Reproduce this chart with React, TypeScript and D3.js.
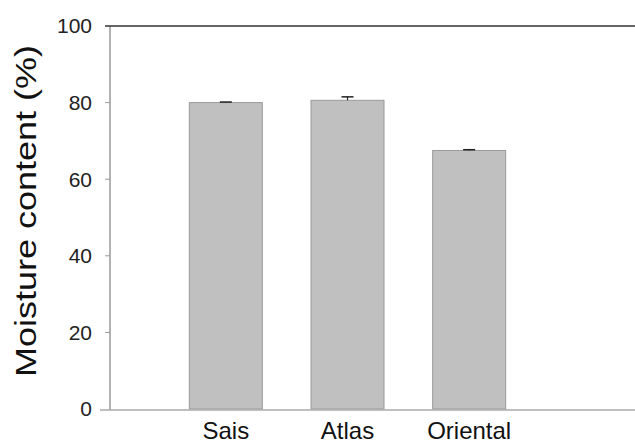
import React from "react";
import * as d3 from "d3";

const categories = ["Sais", "Atlas", "Oriental"];
const values = [80.0, 80.6, 67.5];
const errors = [0.15, 0.9, 0.2];
const yTicks = [0, 20, 40, 60, 80, 100];

const W = 635;
const H = 445;
const left = 110;
const right = 635;
const top = 26;
const bottom = 409;

export default function App() {
  const y = d3.scaleLinear().domain([0, 100]).range([bottom, top]);
  const x = d3
    .scaleBand<string>()
    .domain(categories)
    .range([165, 530])
    .paddingInner(0.4)
    .paddingOuter(0.2);
  const font = "Arial, 'Liberation Sans', Helvetica, sans-serif";
  return (
    <svg
      width={W}
      height={H}
      style={{ position: "absolute", left: 0, top: 0, background: "#fff" }}
      fontFamily={font}
    >
      {categories.map((c, i) => {
        const bx = x(c)!;
        const bw = x.bandwidth();
        const cx = bx + bw / 2;
        return (
          <g key={c}>
            <rect
              x={bx}
              y={y(values[i])}
              width={bw}
              height={y(0) - y(values[i])}
              fill="#c0c0c0"
              stroke="#9a9a9a"
              strokeWidth={1}
            />
            <line
              x1={cx}
              x2={cx}
              y1={y(values[i])}
              y2={y(values[i] + errors[i])}
              stroke="#222"
              strokeWidth={1.2}
            />
            <line
              x1={cx - 6}
              x2={cx + 6}
              y1={y(values[i] + errors[i])}
              y2={y(values[i] + errors[i])}
              stroke="#222"
              strokeWidth={1.5}
            />
            <text
              x={cx}
              y={439}
              textAnchor="middle"
              fontSize={24}
              fill="#111"
            >
              {c}
            </text>
          </g>
        );
      })}
      <line x1={left} x2={left} y1={top} y2={bottom + 1} stroke="#999" strokeWidth={1.5} />
      <line x1={100} x2={right} y1={bottom + 1} y2={bottom + 1} stroke="#aaa" strokeWidth={1.5} />
      <line x1={105} x2={right} y1={top} y2={top} stroke="#333" strokeWidth={1.5} />
      {yTicks.map((t) => (
        <g key={t}>
          {t !== 0 && t !== 100 && (
            <line x1={105} x2={left} y1={y(t)} y2={y(t)} stroke="#999" strokeWidth={1} />
          )}
          <text
            x={92}
            y={y(t)}
            dy="0.35em"
            textAnchor="end"
            fontSize={21}
            fill="#222"
          >
            {t}
          </text>
        </g>
      ))}
      <text
        transform={`translate(36, 211) rotate(-90)`}
        textAnchor="middle"
        fontSize={29}
        fill="#111"
        textLength={332}
        lengthAdjust="spacingAndGlyphs"
      >
        Moisture content (%)
      </text>
    </svg>
  );
}
